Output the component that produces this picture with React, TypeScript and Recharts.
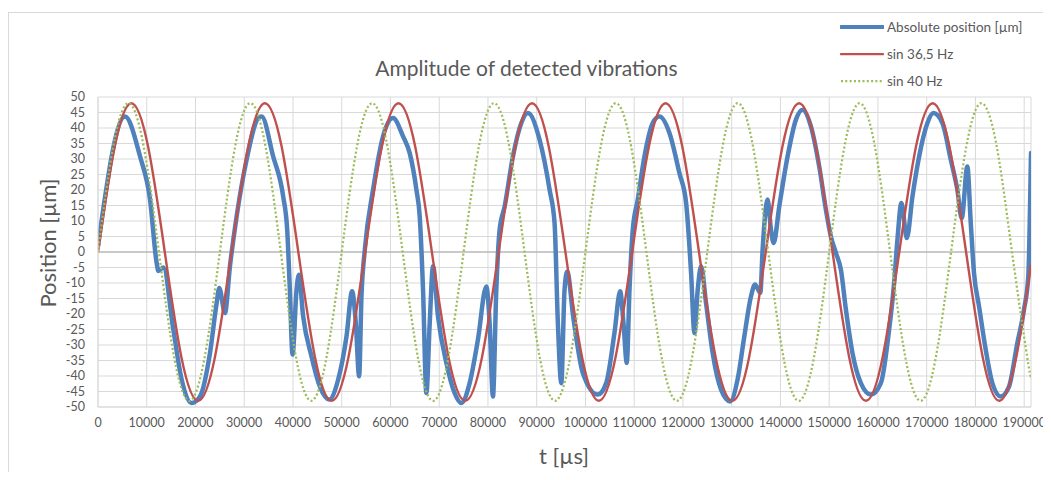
import React from "react";
import { LineChart, Line, XAxis, YAxis, CartesianGrid, ReferenceLine } from "recharts";

// values: [t in µs, position in µm]
const absolutePosition: [number, number][] = [
  [0, 1.8], [5550, 43.7], [8630, 30.8], [10680, 16.9], [12040, -3.6], [12380, -6.1],
  [13400, -5], [15450, -25], [17170, -41.2], [19220, -48.7], [20920, -46.6], [22970, -32.6],
  [24340, -16.5], [24880, -11.6], [26040, -19.7], [27070, -4.6], [28440, 11.5], [30490, 29.8],
  [32870, 43.2], [33560, 43.7], [35940, 30.8], [37990, 17.9], [38810, 7.2], [39360, -12.2],
  [39910, -33.1], [40730, -12.2], [41200, -7.3], [42090, -20.8], [43800, -33.7], [45510, -43.4],
  [47420, -47.6], [49260, -41.2], [50980, -27.2], [52130, -12.7], [52890, -22.9], [53570, -40.1],
  [54050, -14.3], [54730, 0.7], [56430, 20.1], [58480, 37.3], [60530, 43.2], [62580, 37.3],
  [63950, 31.9], [65320, 20.1], [66000, 11.5], [66680, -12.2], [67370, -45.5], [68050, -22.9],
  [68730, -4.6], [69750, -20.8], [71470, -35.8], [73170, -45.5], [74540, -48.7], [76240, -42.3],
  [77940, -28.3], [79660, -11.1], [80340, -22.9], [81020, -46.6], [81710, -12.2], [82390, 7.2],
  [83420, 14.7], [85120, 30.8], [86840, 41.6], [88190, 44.8], [90590, 36.2], [92640, 20.1],
  [93660, 9.4], [94340, -22.9], [95040, -42.3], [95710, -12.2], [96260, -6.3], [97500, -21],
  [99460, -39], [102530, -46], [104250, -42.3], [105950, -26.1], [107120, -12.7], [107800, -22.9],
  [108480, -35.8], [109030, -12.2], [109710, 7.2], [110730, 16.9], [112100, 30.8], [113800, 41.6],
  [115180, 43.7], [117230, 38.4], [119270, 25.5], [120650, 15.8], [121670, -6.8], [122350, -26.1],
  [123030, -12.2], [123720, -4.6], [124740, -16.5], [126100, -32.6], [127820, -44.4], [129700, -48.2],
  [131220, -41], [132590, -27.2], [133960, -14.3], [134780, -10.5], [135870, -13.2], [136340, 0.7],
  [136830, 11.5], [137370, 16.9], [138060, 7.2], [138600, 2.9], [139760, 14.7], [141460, 30.8],
  [143180, 42.7], [144530, 45.9], [146250, 40.5], [147950, 27.6], [149330, 13.6], [150350, 5],
  [151380, -0.3], [152400, -5.7], [153430, -18.6], [154780, -32.6], [156500, -42.3], [158550, -46],
  [160600, -42.3], [162300, -25], [163320, -10], [164000, 4], [164820, 15.8], [165930, 4.5],
  [167080, 17.9], [168450, 30.8], [170150, 41.6], [171380, 44.8], [173220, 41.6], [174940, 29.8],
  [176290, 20.1], [177190, 10.9], [178340, 27.6], [179040, 9.4], [179710, -6.8], [180740, -17.5],
  [182110, -31.5], [183470, -42.3], [185190, -46.6], [186890, -43.4], [188590, -29.4], [189960, -18.6],
  [190840, -7.9], [191400, 31.9],
];

const sin365: [number, number][] = [
  [0, 0], [3425, 34], [6849, 48], [10274, 34], [13699, 0], [17123, -34], [20548, -48], [23973, -34],
  [27397, 0], [30822, 34], [34247, 48], [37671, 34], [41096, 0], [44521, -34], [47945, -48], [51370, -34],
  [54795, 0], [58219, 34], [61644, 48], [65068, 34], [68493, 0], [71918, -34], [75342, -48], [78767, -34],
  [82192, 0], [85616, 34], [89041, 48], [92466, 34], [95890, 0], [99315, -34], [102740, -48], [106164, -34],
  [109589, 0], [113014, 34], [116438, 48], [119863, 34], [123288, 0], [126712, -34], [130137, -48], [133562, -34],
  [136986, 0], [140411, 34], [143836, 48], [147260, 34], [150685, 0], [154110, -34], [157534, -48], [160959, -34],
  [164384, 0], [167808, 34], [171233, 48], [174658, 34], [178082, 0], [181507, -34], [184932, -48], [188356, -34],
  [191400, -4],
];

const sin40: [number, number][] = [
  [0, 0], [3125, 34], [6250, 48], [9375, 34], [12500, 0], [15625, -34], [18750, -48], [21875, -34],
  [25000, 0], [28125, 34], [31250, 48], [34375, 34], [37500, 0], [40625, -34], [43750, -48], [46875, -34],
  [50000, 0], [53125, 34], [56250, 48], [59375, 34], [62500, 0], [65625, -34], [68750, -48], [71875, -34],
  [75000, 0], [78125, 34], [81250, 48], [84375, 34], [87500, 0], [90625, -34], [93750, -48], [96875, -34],
  [100000, 0], [103125, 34], [106250, 48], [109375, 34], [112500, 0], [115625, -34], [118750, -48], [121875, -34],
  [125000, 0], [128125, 34], [131250, 48], [134375, 34], [137500, 0], [140625, -34], [143750, -48], [146875, -34],
  [150000, 0], [153125, 34], [156250, 48], [159375, 34], [162500, 0], [165625, -34], [168750, -48], [171875, -34],
  [175000, 0], [178125, 34], [181250, 48], [184375, 34], [187500, 0], [190625, -34], [191400, -40],
];

const xTicks = [
  0, 10000, 20000, 30000, 40000, 50000, 60000, 70000, 80000, 90000, 100000,
  110000, 120000, 130000, 140000, 150000, 160000, 170000, 180000, 190000,
];
const yTicks = [-50, -45, -40, -35, -30, -25, -20, -15, -10, -5, 0, 5, 10, 15, 20, 25, 30, 35, 40, 45, 50];

const toRows = (pts: [number, number][]) => pts.map(([t, v]) => ({ t, v }));

const font = "Lato, 'Open Sans', sans-serif";
const textColor = "#595959";

const legendItems = [
  { name: "Absolute position [µm]", color: "#4f81bd", width: 4, dash: undefined as string | undefined },
  { name: "sin 36,5 Hz", color: "#c0504d", width: 2.25, dash: undefined },
  { name: "sin 40 Hz", color: "#9bbb59", width: 2.25, dash: "2 2.3" },
];

export default function App() {
  const tickStyle = { fontSize: 12.5, fill: textColor, fontFamily: font };
  return (
    <div style={{ position: "relative", width: 1051, height: 480, margin: -8, overflow: "hidden", background: "#fff" }}>
      <div style={{ position: "absolute", left: 8, top: 12, right: -10, bottom: -10, border: "1px solid #d9d9d9" }} />
      <div
        style={{
          position: "absolute", left: 0, width: 1053, top: 55, textAlign: "center",
          fontFamily: font, fontSize: 21, color: textColor, lineHeight: "26px",
        }}
      >
        Amplitude of detected vibrations
      </div>
      <div
        style={{
          position: "absolute", left: 47, top: 243, transform: "translate(-50%, -50%) rotate(-90deg)",
          fontFamily: font, fontSize: 22, color: textColor, whiteSpace: "nowrap",
        }}
      >
        Position [µm]
      </div>
      <div
        style={{
          position: "absolute", left: 564, top: 455, transform: "translate(-50%, -50%)",
          fontFamily: font, fontSize: 22, color: textColor, whiteSpace: "nowrap",
        }}
      >
        t [µs]
      </div>
      <div style={{ position: "absolute", left: 840, top: 13 }}>
        {legendItems.map((it) => (
          <div key={it.name} style={{ display: "flex", alignItems: "center", height: 27.3 }}>
            <svg width={44} height={8} style={{ marginRight: 3 }}>
              <line x1={1} y1={4} x2={43} y2={4} stroke={it.color} strokeWidth={it.width}
                strokeDasharray={it.dash} strokeLinecap={it.dash ? "butt" : "round"} />
            </svg>
            <span style={{ fontFamily: font, fontSize: 13.5, color: textColor, whiteSpace: "nowrap" }}>{it.name}</span>
          </div>
        ))}
      </div>
      <div style={{ position: "absolute", left: 0, top: 0 }}>
        <LineChart width={1051} height={480} margin={{ top: 97, right: 20, bottom: 43, left: 38 }}>
          <CartesianGrid stroke="#d9d9d9" strokeWidth={1} />
          <XAxis
            dataKey="t" type="number" domain={[0, 191400]} ticks={xTicks} allowDataOverflow
            height={30} tickLine={false} tickSize={6} tickMargin={5}
            axisLine={{ stroke: "#d9d9d9" }} tick={tickStyle} interval={0}
          />
          <YAxis
            type="number" domain={[-50, 50]} ticks={yTicks} allowDataOverflow width={60}
            tickLine={false} tickSize={6} tickMargin={7}
            axisLine={{ stroke: "#d9d9d9" }} tick={tickStyle} interval={0}
          />
          <ReferenceLine y={0} stroke="#a6a6a6" strokeWidth={1} />
          <Line data={toRows(absolutePosition)} dataKey="v" type="monotone" stroke="#4f81bd"
            strokeWidth={4.5} dot={false} isAnimationActive={false} strokeLinejoin="round" strokeLinecap="round" />
          <Line data={toRows(sin365)} dataKey="v" type="natural" stroke="#c0504d"
            strokeWidth={2.4} dot={false} isAnimationActive={false} />
          <Line data={toRows(sin40)} dataKey="v" type="natural" stroke="#9bbb59"
            strokeWidth={2.25} strokeDasharray="2 2.3" dot={false} isAnimationActive={false} />
        </LineChart>
      </div>
    </div>
  );
}
